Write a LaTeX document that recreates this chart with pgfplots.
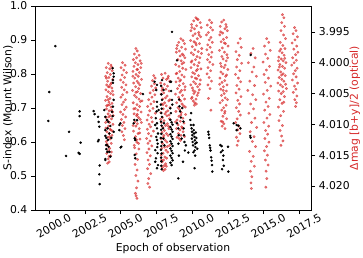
\documentclass[border=0pt]{standalone}
\usepackage{fontspec}
\setmainfont{DejaVu Sans}
\usepackage{pgfplots}
\pgfplotsset{compat=1.18}
\definecolor{optred}{RGB}{214,39,40}

\begin{document}
\fontsize{10.8}{13}\selectfont
\begin{tikzpicture}
\pgfplotsset{
  common/.style={
    width=276pt, height=204pt, scale only axis,
    at={(0,0)}, anchor=south west,
    xmin=1999, xmax=2018.3,
    tick align=outside, major tick length=4pt,
    /pgf/number format/assume math mode=true,
    tick style={black, line width=0.7pt},
    axis line style={line width=0.7pt},
  }
}
% optical photometry (right axis, magnitudes increase downwards)
\begin{axis}[common,
  axis x line=none, axis y line*=right,
  y dir=reverse, ymin=3.9908, ymax=4.0239,
  ytick={3.995,4.000,4.005,4.010,4.015,4.020},
  yticklabel style={/pgf/number format/fixed, /pgf/number format/fixed zerofill, /pgf/number format/precision=3},
  ylabel={Δmag [b+y]/2 (optical)},
  ylabel style={optred, at={(rel axis cs:1.159,0.5)}, anchor=center},
]
\addplot[only marks, mark=*, mark size=1.25pt, color=optred, opacity=0.6] coordinates {
(2004.12,4.0001) (2004.31,4.0004) (2003.98,4.0008) (2004.22,4.0010) (2004.40,4.0013) (2004.05,4.0016) (2004.27,4.0019) (2003.94,4.0022) (2004.16,4.0024) (2004.44,4.0027) (2004.08,4.0030) (2004.34,4.0033) (2004.01,4.0036) (2004.20,4.0039) (2004.37,4.0041) (2003.96,4.0044) (2004.13,4.0047) (2004.29,4.0050) (2004.46,4.0052) (2004.04,4.0055) (2004.24,4.0058) (2003.93,4.0061) (2004.17,4.0064) (2004.39,4.0066) (2004.09,4.0069) (2004.32,4.0072) (2004.00,4.0075) (2004.19,4.0078) (2004.42,4.0080) (2004.11,4.0083) (2004.26,4.0086) (2003.97,4.0089) (2004.35,4.0091) (2004.06,4.0094) (2004.21,4.0097) (2004.45,4.0100) (2004.14,4.0103) (2003.95,4.0106) (2004.30,4.0109) (2004.03,4.0112) (2004.18,4.0115) (2004.38,4.0118) (2004.10,4.0121) (2004.25,4.0124) (2003.99,4.0128) (2004.33,4.0131) (2004.07,4.0135) (2004.22,4.0139) (2004.15,4.0143) (2004.02,4.0147) (2004.28,4.0151) (2004.12,4.0156) (2004.19,4.0161) (2004.08,4.0163)
(2004.36,4.0007) (2003.99,4.0025) (2004.28,4.0035) (2004.42,4.0046) (2004.11,4.0060) (2004.01,4.0070) (2004.36,4.0077) (2004.16,4.0088) (2003.94,4.0097) (2004.41,4.0111) (2004.23,4.0120) (2004.05,4.0132) (2004.34,4.0145) (2004.17,4.0152) (2004.26,4.0108) (2004.47,4.0086) (2004.13,4.0039) (2004.21,4.0068)
(2005.12,4.0000) (2005.30,4.0004) (2005.02,4.0008) (2005.21,4.0012) (2005.40,4.0016) (2005.09,4.0020) (2005.27,4.0024) (2004.99,4.0028) (2005.17,4.0032) (2005.36,4.0036) (2005.06,4.0040) (2005.24,4.0044) (2005.43,4.0048) (2005.13,4.0052) (2005.01,4.0056) (2005.32,4.0060) (2005.19,4.0064) (2005.08,4.0068) (2005.38,4.0072) (2005.26,4.0076) (2004.98,4.0080) (2005.15,4.0084) (2005.34,4.0088) (2005.04,4.0092) (2005.22,4.0097) (2005.11,4.0102) (2005.29,4.0107) (2005.07,4.0112) (2005.18,4.0118) (2005.25,4.0125)
(2006.05,3.9977) (2006.15,3.9981) (2005.95,3.9986) (2006.28,3.9988) (2006.10,3.9992) (2005.88,3.9995) (2006.35,3.9997) (2006.02,4.0000) (2006.20,4.0003) (2005.92,4.0006) (2006.40,4.0008) (2006.12,4.0011) (2005.85,4.0014) (2006.30,4.0016) (2006.07,4.0019) (2006.22,4.0022) (2005.98,4.0025) (2006.45,4.0027) (2006.14,4.0030) (2005.90,4.0033) (2006.33,4.0036) (2006.04,4.0039) (2006.25,4.0042) (2005.82,4.0045) (2006.17,4.0047) (2006.38,4.0050) (2005.96,4.0053) (2006.09,4.0056) (2006.27,4.0059) (2006.48,4.0062) (2005.87,4.0065) (2006.13,4.0068) (2006.31,4.0071) (2006.01,4.0074) (2006.19,4.0077) (2006.42,4.0080) (2005.93,4.0083) (2006.11,4.0086) (2006.24,4.0089) (2006.36,4.0092) (2005.99,4.0096) (2006.16,4.0099) (2006.06,4.0103) (2006.29,4.0107) (2005.89,4.0111) (2006.21,4.0115) (2006.03,4.0120) (2006.34,4.0124) (2006.12,4.0129) (2005.94,4.0134) (2006.26,4.0140) (2006.08,4.0148) (2006.18,4.0157) (2006.00,4.0165) (2006.14,4.0174) (2006.05,4.0183) (2006.20,4.0192) (2006.10,4.0203) (2006.02,4.0212) (2006.13,4.0220) (2006.07,4.0216)
(2006.43,4.0001) (2005.84,4.0022) (2006.23,4.0033) (2006.06,4.0048) (2006.37,4.0063) (2005.91,4.0075) (2006.15,4.0084) (2006.44,4.0097) (2005.86,4.0102) (2006.32,4.0114) (2006.10,4.0125) (2005.97,4.0138) (2006.24,4.0131) (2006.18,4.0011)
(2007.30,4.0021) (2007.40,4.0025) (2007.22,4.0029) (2007.35,4.0034) (2007.15,4.0038) (2007.44,4.0041) (2007.27,4.0045) (2007.05,4.0049) (2007.38,4.0052) (2007.18,4.0056) (2006.95,4.0060) (2007.32,4.0063) (2007.10,4.0067) (2006.88,4.0071) (2007.25,4.0074) (2007.02,4.0078) (2007.42,4.0082) (2006.92,4.0085) (2007.14,4.0089) (2006.84,4.0093) (2007.20,4.0096) (2006.98,4.0100) (2007.08,4.0104) (2006.86,4.0108) (2007.28,4.0111) (2006.94,4.0115) (2007.12,4.0119) (2006.81,4.0123) (2007.03,4.0127) (2006.90,4.0131) (2007.17,4.0135) (2006.97,4.0140) (2006.83,4.0146) (2007.06,4.0151) (2006.91,4.0158) (2007.00,4.0165) (2006.87,4.0172) (2007.09,4.0180) (2006.95,4.0188) (2006.89,4.0196) (2007.01,4.0202)
(2008.10,4.0017) (2007.85,4.0019) (2008.32,4.0022) (2007.95,4.0025) (2008.20,4.0027) (2008.42,4.0030) (2007.79,4.0033) (2008.05,4.0035) (2008.27,4.0038) (2007.90,4.0041) (2008.15,4.0043) (2008.38,4.0046) (2008.00,4.0049) (2007.82,4.0051) (2008.24,4.0054) (2008.12,4.0057) (2007.93,4.0059) (2008.35,4.0062) (2008.07,4.0065) (2007.87,4.0067) (2008.18,4.0070) (2008.44,4.0073) (2007.97,4.0075) (2008.29,4.0078) (2007.80,4.0081) (2008.09,4.0083) (2008.22,4.0086) (2007.91,4.0089) (2008.40,4.0091) (2008.02,4.0094) (2007.84,4.0097) (2008.26,4.0099) (2008.13,4.0102) (2007.94,4.0105) (2008.36,4.0107) (2008.04,4.0110) (2007.88,4.0113) (2008.19,4.0115) (2008.31,4.0118) (2007.98,4.0121) (2007.81,4.0123) (2008.11,4.0126) (2008.23,4.0129) (2007.92,4.0131) (2008.41,4.0134) (2008.06,4.0137) (2007.86,4.0139) (2008.16,4.0142) (2008.28,4.0145) (2007.96,4.0147) (2007.83,4.0150) (2008.08,4.0153) (2008.21,4.0155) (2007.99,4.0158) (2007.89,4.0161) (2008.14,4.0164) (2008.03,4.0167) (2007.91,4.0170) (2008.10,4.0173) (2007.98,4.0175)
(2008.30,4.0025) (2007.88,4.0045) (2008.43,4.0060) (2008.17,4.0080) (2007.78,4.0092) (2008.33,4.0103) (2008.01,4.0118) (2008.25,4.0136) (2007.85,4.0158) (2008.18,4.0168) (2008.37,4.0085) (2007.95,4.0068)
(2009.20,3.9961) (2009.35,3.9964) (2009.05,3.9967) (2009.45,3.9969) (2008.95,3.9972) (2009.25,3.9975) (2009.52,3.9978) (2009.10,3.9981) (2008.88,3.9983) (2009.30,3.9986) (2009.15,3.9989) (2009.48,3.9992) (2008.99,3.9995) (2009.22,3.9997) (2009.40,4.0000) (2008.84,4.0003) (2009.07,4.0006) (2009.33,4.0009) (2009.55,4.0011) (2009.12,4.0014) (2008.92,4.0017) (2009.27,4.0020) (2009.43,4.0023) (2009.02,4.0025) (2009.18,4.0028) (2008.86,4.0031) (2009.37,4.0034) (2009.09,4.0037) (2009.50,4.0039) (2008.97,4.0042) (2009.24,4.0045) (2009.14,4.0048) (2008.82,4.0051) (2009.32,4.0053) (2009.04,4.0056) (2009.46,4.0059) (2009.19,4.0062) (2008.90,4.0065) (2009.28,4.0067) (2009.39,4.0070) (2009.00,4.0073) (2009.11,4.0076) (2008.85,4.0079) (2009.23,4.0081) (2009.53,4.0084) (2009.06,4.0087) (2009.34,4.0090) (2008.94,4.0093) (2009.16,4.0095) (2009.42,4.0098) (2009.01,4.0101) (2009.26,4.0104) (2008.89,4.0107) (2009.13,4.0109) (2009.36,4.0112) (2009.03,4.0115) (2009.21,4.0118) (2008.93,4.0121) (2009.08,4.0123) (2009.17,4.0126)
(2008.91,3.9977) (2009.38,3.9988) (2009.28,4.0002) (2008.87,4.0018) (2009.47,4.0044) (2009.09,4.0060) (2009.51,4.0072) (2008.83,4.0096) (2009.31,4.0106) (2009.45,4.0120) (2009.12,4.0030) (2009.20,4.0085)
(2010.25,3.9927) (2010.40,3.9930) (2010.10,3.9932) (2010.55,3.9935) (2009.95,3.9938) (2010.30,3.9940) (2010.62,3.9943) (2010.15,3.9945) (2009.90,3.9948) (2010.45,3.9951) (2010.20,3.9953) (2010.05,3.9956) (2010.58,3.9958) (2010.35,3.9961) (2009.88,3.9964) (2010.12,3.9966) (2010.50,3.9969) (2010.27,3.9971) (2010.00,3.9974) (2010.66,3.9977) (2010.18,3.9979) (2010.42,3.9982) (2009.93,3.9984) (2010.08,3.9987) (2010.33,3.9990) (2010.53,3.9992) (2010.22,3.9995) (2009.98,3.9997) (2010.47,4.0000) (2010.13,4.0003) (2010.38,4.0005) (2009.91,4.0008) (2010.60,4.0010) (2010.28,4.0013) (2010.03,4.0016) (2010.16,4.0018) (2010.44,4.0021) (2009.96,4.0023) (2010.31,4.0026) (2010.56,4.0028) (2010.09,4.0031) (2010.23,4.0034) (2009.89,4.0036) (2010.37,4.0039) (2010.01,4.0041) (2010.49,4.0044) (2010.19,4.0047) (2010.11,4.0050) (2010.34,4.0053) (2009.99,4.0056) (2010.26,4.0059) (2010.06,4.0062) (2010.17,4.0065) (2010.29,4.0067) (2010.14,4.0069)
(2010.33,3.9929) (2009.97,3.9943) (2010.48,3.9955) (2010.23,3.9968) (2010.64,3.9985) (2009.92,3.9999) (2010.36,4.0011) (2010.52,4.0035) (2010.06,4.0045) (2009.94,4.0058) (2010.41,4.0049) (2010.21,4.0025)
(2011.20,3.9931) (2011.35,3.9935) (2011.05,3.9939) (2011.28,3.9943) (2011.42,3.9947) (2011.12,3.9951) (2010.99,3.9955) (2011.30,3.9959) (2011.18,3.9963) (2011.40,3.9967) (2011.08,3.9971) (2011.25,3.9975) (2011.02,3.9979) (2011.37,3.9983) (2011.15,3.9987) (2011.32,3.9991) (2011.06,3.9995) (2011.22,3.9999) (2011.44,4.0003) (2011.10,4.0008) (2011.28,4.0013) (2011.03,4.0018) (2011.17,4.0024) (2011.34,4.0030) (2011.09,4.0036) (2011.24,4.0042) (2011.13,4.0058) (2011.30,4.0077)
(2012.20,3.9931) (2012.05,3.9934) (2012.35,3.9938) (2011.95,3.9941) (2012.28,3.9945) (2012.45,3.9948) (2012.12,3.9952) (2011.92,3.9955) (2012.40,3.9959) (2012.18,3.9962) (2012.02,3.9966) (2012.32,3.9969) (2012.50,3.9973) (2012.10,3.9976) (2011.90,3.9980) (2012.25,3.9983) (2012.42,3.9987) (2012.07,3.9990) (2012.15,3.9994) (2012.37,3.9997) (2011.97,4.0001) (2012.30,4.0004) (2012.22,4.0008) (2012.48,4.0011) (2012.00,4.0015) (2012.13,4.0018) (2012.33,4.0022) (2011.93,4.0025) (2012.27,4.0029) (2012.08,4.0032) (2012.43,4.0036) (2012.17,4.0039) (2011.99,4.0043) (2012.38,4.0046) (2012.23,4.0050) (2012.04,4.0053) (2012.30,4.0057) (2012.11,4.0061) (2011.94,4.0065) (2012.36,4.0069) (2012.19,4.0073) (2012.06,4.0077) (2012.26,4.0082) (2012.14,4.0087) (2012.40,4.0091) (2012.01,4.0095) (2012.21,4.0099) (2012.09,4.0103) (2012.29,4.0107)
(2012.39,3.9942) (2011.98,3.9950) (2012.24,3.9968) (2012.47,3.9992) (2012.03,4.0006) (2012.40,4.0020) (2012.16,4.0045) (2011.91,4.0035) (2012.46,4.0060) (2012.28,4.0079) (2012.12,4.0096)
(2013.35,3.9961) (2013.20,3.9968) (2013.42,3.9975) (2013.05,3.9982) (2013.28,3.9988) (2013.15,3.9995) (2013.45,4.0001) (2013.10,4.0007) (2013.32,4.0013) (2013.02,4.0019) (2013.22,4.0025) (2013.38,4.0031) (2013.12,4.0037) (2013.27,4.0043) (2013.06,4.0049) (2013.40,4.0055) (2013.18,4.0061) (2013.30,4.0067) (2013.08,4.0073) (2013.24,4.0079) (2013.36,4.0085) (2013.14,4.0091) (2013.03,4.0097) (2013.26,4.0103) (2013.17,4.0109) (2013.33,4.0115) (2013.09,4.0121) (2013.21,4.0127) (2013.13,4.0134)
(2014.25,3.9977) (2014.10,3.9985) (2014.40,3.9992) (2013.92,4.0000) (2014.30,4.0007) (2014.18,4.0015) (2014.48,4.0022) (2014.02,4.0030) (2014.35,4.0037) (2013.88,4.0045) (2014.22,4.0052) (2014.44,4.0060) (2014.08,4.0067) (2014.28,4.0075) (2013.96,4.0082) (2014.38,4.0090) (2014.14,4.0097) (2014.50,4.0105) (2014.05,4.0112) (2014.32,4.0120) (2014.20,4.0128) (2014.42,4.0136) (2014.00,4.0144) (2014.26,4.0152) (2014.12,4.0160) (2014.34,4.0168) (2014.06,4.0176) (2014.16,4.0185) (2014.10,4.0195) (2014.13,4.0204)
(2015.20,3.9961) (2015.35,3.9967) (2015.05,3.9973) (2015.45,3.9980) (2015.12,3.9986) (2015.28,3.9993) (2014.95,3.9999) (2015.40,4.0006) (2015.18,4.0012) (2015.02,4.0019) (2015.32,4.0025) (2015.10,4.0032) (2015.48,4.0038) (2015.24,4.0045) (2014.98,4.0051) (2015.38,4.0058) (2015.15,4.0064) (2015.30,4.0071) (2015.06,4.0077) (2015.42,4.0084) (2015.22,4.0090) (2015.00,4.0097) (2015.34,4.0103) (2015.13,4.0110) (2015.27,4.0116) (2015.08,4.0123) (2015.36,4.0129) (2015.19,4.0136) (2015.04,4.0143) (2015.25,4.0150) (2015.11,4.0158) (2015.30,4.0166) (2015.16,4.0176) (2015.21,4.0188) (2015.14,4.0202)
(2016.30,3.9922) (2016.40,3.9927) (2016.25,3.9935) (2016.45,3.9941) (2016.20,3.9948) (2016.38,3.9955) (2016.52,3.9961) (2016.15,3.9967) (2016.33,3.9972) (2016.48,3.9977) (2016.10,3.9981) (2016.28,3.9984) (2016.42,3.9988) (2016.05,3.9991) (2016.22,3.9994) (2016.36,3.9997) (2016.55,4.0000) (2016.12,4.0003) (2016.30,4.0006) (2016.45,4.0009) (2016.00,4.0012) (2016.18,4.0015) (2016.35,4.0018) (2016.50,4.0021) (2016.08,4.0024) (2016.26,4.0027) (2016.40,4.0030) (2015.98,4.0033) (2016.16,4.0036) (2016.32,4.0039) (2016.58,4.0042) (2016.04,4.0046) (2016.22,4.0050) (2016.44,4.0055) (2016.12,4.0060) (2016.28,4.0066) (2016.02,4.0072) (2016.38,4.0079) (2016.18,4.0086) (2016.06,4.0094) (2016.30,4.0102) (2016.14,4.0110) (2016.24,4.0119) (2016.34,4.0127) (2016.20,4.0134)
(2016.46,3.9993) (2016.09,4.0007) (2016.24,4.0020) (2016.52,4.0035) (2016.36,4.0047) (2016.19,3.9978) (2016.02,3.9997) (2016.40,4.0064)
(2017.15,3.9943) (2017.25,3.9948) (2017.05,3.9953) (2017.35,3.9958) (2017.18,3.9963) (2016.98,3.9968) (2017.30,3.9973) (2017.10,3.9978) (2017.38,3.9983) (2017.22,3.9987) (2017.02,3.9992) (2017.28,3.9996) (2017.12,4.0000) (2016.95,4.0004) (2017.33,4.0009) (2017.20,4.0013) (2017.08,4.0018) (2017.26,4.0023) (2017.00,4.0028) (2017.36,4.0033) (2017.14,4.0038) (2017.24,4.0043) (2017.06,4.0048) (2017.31,4.0054) (2017.17,4.0060) (2017.28,4.0065) (2017.22,4.0071)
};
\end{axis}
% chromospheric activity (left axis)
\begin{axis}[common,
  tick pos=left,
  ymin=0.4, ymax=1.0,
  ytick={0.4,0.5,0.6,0.7,0.8,0.9,1.0},
  yticklabel style={/pgf/number format/fixed, /pgf/number format/fixed zerofill, /pgf/number format/precision=1},
  xtick={2000,2002.5,2005,2007.5,2010,2012.5,2015,2017.5},
  x tick label style={rotate=30, anchor=center, yshift=-12.5pt, xshift=-2pt},
  xticklabel={\pgfmathprintnumber[fixed, fixed zerofill, precision=1, 1000 sep={}]{\tick}},
  xlabel={Epoch of observation},
  xlabel style={at={(rel axis cs:0.5,-0.191)}, anchor=center},
  ylabel={S-index (Mount Wilson)},
  ylabel style={at={(rel axis cs:-0.098,0.5)}, anchor=center},
]
\addplot[only marks, mark=*, mark size=1.05pt, color=black] coordinates {
(2000.42,0.882) (2000.00,0.747) (1999.93,0.662) (2001.38,0.630) (2001.17,0.559) (2002.12,0.690) (2002.12,0.676) (2002.19,0.598) (2002.05,0.568) (2002.12,0.565) (2003.10,0.691) (2003.17,0.682) (2003.41,0.674) (2003.45,0.659) (2003.50,0.645) (2003.45,0.606) (2003.41,0.602) (2003.52,0.531) (2003.50,0.505) (2003.52,0.476)
(2003.92,0.674) (2003.92,0.618) (2003.99,0.612) (2003.97,0.591) (2003.99,0.579) (2003.92,0.547) (2004.43,0.817) (2004.50,0.802) (2004.50,0.792) (2004.45,0.782) (2004.45,0.774) (2004.50,0.724) (2004.45,0.704) (2004.38,0.689) (2004.43,0.676) (2004.50,0.630) (2004.10,0.606) (2004.03,0.591) (2004.15,0.586) (2004.20,0.571) (2004.27,0.557) (2003.92,0.635) (2004.03,0.665) (2003.92,0.550) (2004.27,0.647) (2004.13,0.659) (2004.34,0.612) (2004.06,0.571) (2003.85,0.694) (2004.20,0.625) (2004.08,0.640)
(2004.90,0.650) (2004.90,0.635) (2004.99,0.584) (2004.97,0.655) (2005.04,0.586)
(2005.90,0.655) (2005.94,0.665) (2005.97,0.611) (2006.01,0.606) (2005.97,0.562) (2006.01,0.552) (2006.13,0.664) (2006.55,0.741)
(2007.36,0.777) (2007.53,0.768) (2007.48,0.753) (2007.53,0.718) (2007.53,0.704) (2007.64,0.694) (2007.53,0.655) (2007.41,0.650) (2007.53,0.640) (2007.60,0.625) (2007.53,0.606) (2007.41,0.576) (2007.46,0.552) (2007.60,0.532) (2007.57,0.567) (2007.41,0.542) (2007.53,0.523) (2007.50,0.690) (2007.45,0.670) (2007.58,0.595) (2007.48,0.615) (2007.55,0.585)
(2007.99,0.753) (2007.88,0.724) (2007.88,0.674) (2007.88,0.782) (2007.82,0.765) (2007.84,0.740) (2007.80,0.710) (2007.86,0.698) (2007.83,0.685) (2007.81,0.660) (2007.85,0.648) (2007.82,0.636) (2007.84,0.624) (2007.80,0.612) (2007.86,0.600) (2007.83,0.588) (2007.81,0.577) (2007.85,0.566) (2007.82,0.554) (2007.84,0.543) (2007.83,0.530) (2007.86,0.520) (2007.95,0.640) (2007.98,0.610) (2008.02,0.655) (2008.05,0.590)
(2008.46,0.777) (2008.51,0.777) (2008.58,0.724) (2008.46,0.699) (2008.47,0.665) (2008.55,0.658) (2008.62,0.651) (2008.47,0.644) (2008.55,0.637) (2008.62,0.630) (2008.47,0.623) (2008.55,0.616) (2008.62,0.609) (2008.47,0.602) (2008.55,0.595) (2008.62,0.588) (2008.47,0.581) (2008.55,0.574) (2008.62,0.567) (2008.47,0.560) (2008.55,0.553) (2008.62,0.546) (2008.47,0.539) (2008.55,0.532) (2008.58,0.924) (2008.52,0.750) (2008.60,0.710) (2008.50,0.685) (2008.93,0.840)
(2008.93,0.655) (2009.02,0.640) (2009.05,0.620) (2009.03,0.595) (2009.06,0.560) (2009.02,0.493) (2009.08,0.725) (2009.10,0.705) (2009.15,0.690) (2009.20,0.672) (2009.30,0.700) (2009.38,0.660) (2009.40,0.640) (2009.42,0.620) (2009.45,0.600) (2009.35,0.542) (2009.55,0.590) (2009.72,0.569) (2009.25,0.610) (2009.48,0.575)
(2009.86,0.665) (2009.90,0.650) (2009.95,0.640) (2009.98,0.630) (2010.00,0.620) (2009.97,0.610) (2010.02,0.600) (2010.05,0.590) (2010.08,0.650) (2010.10,0.635) (2010.12,0.625) (2010.15,0.615) (2010.18,0.605) (2010.20,0.595) (2010.22,0.585) (2010.16,0.575) (2010.20,0.560) (2010.25,0.628) (2010.28,0.612) (2010.30,0.598) (2010.16,0.523) (2010.35,0.580) (2010.08,0.570) (2009.92,0.685)
(2011.12,0.630) (2011.18,0.612) (2011.22,0.590) (2011.27,0.575) (2011.32,0.555) (2011.38,0.532) (2011.40,0.513) (2011.15,0.622) (2011.25,0.583) (2011.35,0.545)
(2011.96,0.591) (2012.05,0.588) (2012.12,0.575) (2012.17,0.560) (2012.14,0.547) (2012.20,0.530) (2012.08,0.520) (2012.50,0.586) (2012.52,0.513) (2012.00,0.570)
(2012.89,0.655) (2013.10,0.650) (2013.10,0.635) (2013.36,0.640) (2013.22,0.648)
(2014.08,0.856) (2014.05,0.618) (2014.08,0.613)
};
\end{axis}
\pgfresetboundingbox
\path[use as bounding box] (-35pt,-47pt) rectangle (328pt,210pt);
\end{tikzpicture}
\end{document}
